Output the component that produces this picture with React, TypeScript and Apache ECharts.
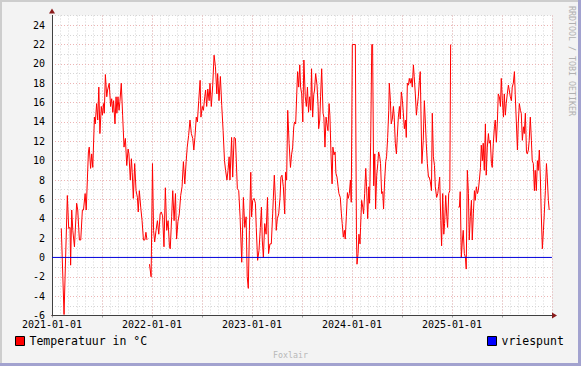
import { useEffect, useRef } from 'react';
import * as echarts from 'echarts';

// Days since 2021-01-01 and temperature (°C); null marks a gap in the data
const dayOffsets = [
  34, 44, 56, 61, 66, 68, 72, 76, 82, 90, 94, 100, 105, 111, 115, 121, 125, 133, 136, 141,
  145, 149, 155, 158, 163, 167, 171, 175, 180, 184, 188, 191, 195, 200, 203, 209, 214, 218, 222, 225,
  230, 234, 237, 241, 245, 248, 253, 258, 263, 268, 273, 278, 281, 286, 290, 293, 297, 302, 307, 312,
  315, 319, 324, 329, 334, 339, 343, 347, 351,
  356, 362, 367, 371, 375, 380, 385, 390, 395, 399, 404, 409, 414, 419, 424, 429, 432, 437, 441, 446,
  451, 455, 460, 465, 470, 475, 480, 485, 490, 494, 499, 504, 509, 514, 518, 522, 527, 531, 536, 541,
  544, 549, 553, 558, 561, 565, 569, 574, 577, 582, 587, 592, 597, 602, 605, 610, 615, 620, 625, 630,
  634, 639, 643, 647, 650, 656, 660, 665, 670, 677, 682, 687, 693, 699, 704, 709, 713, 717, 721, 726,
  729, 733, 738, 743, 746, 751, 756, 761, 765, 768, 772, 777, 782, 787, 791, 796, 801, 806, 812, 816,
  819, 823, 828, 833, 836, 840, 845, 850, 853, 857, 861, 866, 871, 875, 879, 883, 886, 890, 894, 897,
  901, 905, 908, 912, 916, 920, 925, 929, 933, 937, 941, 945, 948, 952, 956, 959, 963, 968, 972, 974,
  978, 981, 985, 990, 993, 997, 1001, 1004, 1008, 1012, 1015, 1019, 1023, 1026, 1030, 1034, 1037, 1041, 1045, 1048,
  1053, 1057, 1060, 1064, 1068, 1071, 1075, 1079, 1082, 1086, 1090, 1093, 1097, 1108, 1112, 1114, 1118, 1121, 1125, 1127,
  1131, 1135, 1138, 1142, 1146, 1149, 1153, 1157, 1160, 1164, 1168, 1171, 1175, 1179, 1182, 1186, 1190, 1193, 1197, 1200,
  1204, 1208, 1211, 1215, 1219, 1222, 1226, 1230, 1232, 1236, 1239, 1243, 1247, 1250, 1254, 1258, 1261, 1265, 1269, 1272,
  1276, 1280, 1283, 1287, 1291, 1294, 1298, 1302, 1305, 1309, 1312, 1316, 1320, 1323, 1327, 1331, 1334, 1338, 1342, 1345,
  1351, 1356, 1360, 1364, 1367, 1371, 1375, 1378, 1382, 1386, 1389, 1393, 1397, 1400, 1405, 1409, 1412, 1416, 1420, 1423,
  1427, 1431, 1434, 1438, 1442, 1445, 1449, 1453, 1456, 1470,
  1484, 1488, 1491, 1495, 1499, 1502, 1506, 1510, 1513, 1517, 1521, 1524, 1528, 1532, 1535, 1539, 1543, 1546, 1550, 1554,
  1557, 1561, 1565, 1568, 1572, 1575, 1579, 1583, 1586, 1590, 1594, 1597, 1601, 1605, 1608, 1612, 1616, 1619, 1623, 1627,
  1630, 1634, 1638, 1641, 1645, 1649, 1652, 1656, 1659, 1663, 1667, 1670, 1674, 1678, 1681, 1685, 1689, 1692, 1696, 1700,
  1703, 1707, 1711, 1714, 1718, 1722, 1725, 1729, 1733, 1736, 1740, 1743, 1747, 1751, 1754, 1758, 1762, 1765, 1769, 1773,
  1776, 1780, 1784, 1787, 1791, 1795, 1798, 1802, 1806, 1809, 1813, 1816,
];

const temperatures: (number | null)[] = [
  3.0, -5.9, 6.4, 3.0, 3.1, -0.8, 4.9, 2.8, 1.1, 5.6, 4.9, 1.8, 1.8, 4.9, 4.9, 6.6, 4.9, 10.9, 11.4, 9.2,
  10.7, 9.3, 14.5, 13.8, 15.9, 14.2, 17.6, 12.8, 15.6, 14.7, 15.9, 14.9, 18.9, 16.6, 17.3, 18.0, 15.6, 16.4, 15.0, 16.2,
  13.8, 16.6, 14.9, 16.6, 15.2, 16.1, 18.0, 14.7, 11.4, 12.3, 9.5, 11.2, 10.7, 8.0, 10.2, 8.8, 6.1, 9.7, 6.9, 6.2,
  4.7, 6.9, 5.2, 3.8, 1.8, 1.8, 2.6, 1.8, null,
  -0.7, -2.0, 9.7, 2.8, 1.6, 2.8, 3.8, 2.4, 4.5, 4.7, 4.3, 1.1, 7.2, 2.8, 3.8, 1.1, 0.9, 4.2, 6.9, 3.8,
  6.6, 1.9, 3.7, 4.5, 6.4, 7.3, 9.9, 7.6, 9.9, 11.4, 12.6, 14.2, 12.8, 12.3, 11.1, 12.4, 14.5, 14.0, 16.2, 18.3,
  14.5, 15.6, 15.2, 16.6, 17.3, 15.6, 17.4, 16.2, 18.0, 15.6, 17.8, 20.9, 19.7, 16.9, 19.0, 16.2, 18.7, 15.7, 13.1, 10.0,
  9.0, 8.0, 9.0, 10.4, 8.0, 12.4, 8.3, 12.4, 12.3, 7.1, 6.9, 4.2, -0.5, 6.2, 3.1, 4.2, -2.0, -3.2, 2.8, 8.8,
  4.2, 5.9, 6.1, 5.6, 3.1, -0.3, 0.7, 3.1, 5.2, 1.8, 0.0, 3.5, 2.4, 6.2, 0.4, 1.4, 1.4, 4.5, 8.5, 5.9,
  2.8, 4.0, 4.5, 6.2, 8.3, 8.5, 7.3, 4.5, 8.8, 8.0, 15.2, 11.8, 9.3, 10.6, 11.4, 13.5, 14.0, 13.8, 16.9, 19.2,
  17.6, 19.9, 17.6, 16.9, 14.0, 20.4, 16.6, 15.6, 17.6, 15.0, 16.6, 15.2, 19.5, 14.5, 16.8, 17.3, 19.0, 17.8, 15.6, 13.3,
  14.2, 16.6, 19.5, 14.9, 14.5, 11.4, 14.5, 13.8, 13.1, 15.9, 14.7, 10.7, 7.6, 11.4, 10.6, 10.9, 8.7, 8.3, 7.3, 6.6,
  6.2, 4.5, 3.5, 2.1, 2.8, 1.9, 4.2, 6.7, 6.1, 6.6, 8.0, 5.7, 22.0, 22.0, 2.4, -0.7, 0.4, 2.4, 1.4, 3.1,
  5.9, 5.2, 4.5, 6.6, 9.2, 7.3, 4.0, 7.3, 5.6, 11.9, 22.0, 22.0, 7.4, 10.7, 5.0, 8.5, 9.7, 10.9, 10.4, 9.7,
  6.6, 6.8, 5.0, 8.0, 9.9, 10.4, 12.4, 15.2, 18.0, 16.2, 13.8, 14.3, 15.6, 14.5, 11.8, 10.7, 12.4, 14.5, 15.6, 14.3,
  17.1, 16.2, 15.0, 13.3, 14.2, 12.4, 18.0, 17.8, 18.5, 18.0, 18.5, 17.6, 19.9, 18.7, 16.9, 14.7, 15.6, 16.6, 18.3, 19.2,
  9.7, 12.1, 16.2, 13.8, 11.8, 9.7, 8.3, 8.3, 7.8, 6.9, 14.9, 10.4, 9.5, 7.3, 6.2, 6.6, 7.3, 8.3, 3.8, 1.2,
  6.6, 2.4, 3.5, 6.4, 4.2, 3.1, 6.6, 6.9, 22.0, null,
  5.2, 5.2, 6.8, 0.0, 1.8, 2.8, 0.4, 0.0, -1.2, 9.0, 6.6, 1.8, 4.2, 5.9, 1.8, 4.5, 6.9, 5.9, 7.3, 6.6,
  6.9, 8.0, 9.3, 11.6, 10.0, 11.8, 9.0, 13.8, 8.5, 11.4, 12.8, 11.8, 12.1, 9.7, 9.3, 11.8, 13.5, 14.2, 11.9, 14.2,
  16.9, 16.6, 15.6, 18.5, 16.2, 14.5, 16.9, 14.7, 15.9, 16.9, 17.8, 17.3, 16.6, 16.2, 17.6, 18.0, 19.2, 16.8, 14.0, 11.1,
  13.8, 15.9, 15.2, 14.9, 12.1, 13.5, 12.8, 14.9, 10.9, 10.7, 11.1, 12.1, 14.5, 12.1, 10.0, 9.7, 6.9, 9.0, 6.9, 10.0,
  9.0, 11.1, 8.0, 4.5, 0.9, 2.8, 4.5, 6.9, 9.7, 8.3, 5.9, 4.9,
];

// Freezing point reference line (°C) over the whole period
const freezeDays = [0, 1826];
const freezeValues = [0, 0];

const yearLabels = ['2021-01-01', '2022-01-01', '2023-01-01', '2024-01-01', '2025-01-01'];

const DAYS_PER_MONTH = 365.25 / 12;
const MONO = '"DejaVu Sans Mono", monospace';

export default function App() {
  const ref = useRef<HTMLDivElement>(null);

  useEffect(() => {
    const chart = echarts.init(ref.current!, null, { renderer: 'svg', width: 581, height: 366 });
    const tempData = dayOffsets.map((d, i) => [d / DAYS_PER_MONTH, temperatures[i]]);
    const freezeData = freezeDays.map((d, i) => [d / DAYS_PER_MONTH, freezeValues[i]]);

    const minorColor = '#d6d6d6';
    const majorColor = '#ecb4b4';
    const axisColor = '#404040';
    const arrowColor = '#8b1a1a';
    const dash = [1, 2];

    chart.setOption({
      animation: false,
      backgroundColor: '#f3f3f3',
      grid: {
        left: 52,
        right: 29,
        top: 15.5,
        bottom: 50.5,
        show: true,
        backgroundColor: '#ffffff',
        borderWidth: 0,
      },
      xAxis: [
        {
          type: 'value', min: 0, max: 60, interval: 1, position: 'bottom', z: 0,
          axisLine: { show: false, onZero: false },
          axisTick: { show: false },
          axisLabel: { show: false },
          splitLine: { show: true, lineStyle: { color: minorColor, type: dash, width: 1 } },
        },
        {
          type: 'value', min: 0, max: 60, interval: 6, position: 'bottom', z: 1,
          axisLine: {
            show: true, onZero: false, symbol: ['none', 'triangle'], symbolSize: [6, 5], symbolOffset: [0, 2.5],
            lineStyle: { color: arrowColor, width: 1 },
          },
          axisTick: { show: true, length: 2, lineStyle: { color: '#999999' } },
          axisLabel: {
            show: true, margin: 4, fontFamily: MONO, fontSize: 10, color: '#000000',
            formatter: (v: number) => (v % 12 === 0 && v / 12 < yearLabels.length ? yearLabels[v / 12] : ''),
          },
          splitLine: { show: true, lineStyle: { color: majorColor, type: dash, width: 1 } },
        },
        {
          type: 'value', min: 0, max: 60, position: 'bottom', z: 2,
          axisLine: { show: true, onZero: false, lineStyle: { color: axisColor, width: 1 } },
          axisTick: { show: false },
          axisLabel: { show: false },
          splitLine: { show: false },
        },
      ],
      yAxis: [
        {
          type: 'value', min: -6, max: 25, interval: 1, position: 'left', z: 0,
          axisLine: { show: false, onZero: false },
          axisTick: { show: false },
          axisLabel: { show: false },
          splitLine: { show: true, lineStyle: { color: minorColor, type: dash, width: 1 } },
        },
        {
          type: 'value', min: -6, max: 25, interval: 2, position: 'left', z: 1,
          axisLine: {
            show: true, onZero: false, symbol: ['none', 'triangle'], symbolSize: [6, 5], symbolOffset: [0, 4.5],
            lineStyle: { color: arrowColor, width: 1 },
          },
          axisTick: { show: false },
          axisLabel: {
            show: true, margin: 7, fontFamily: MONO, fontSize: 10, color: '#000000',
            formatter: (v: number) => (Math.abs(v % 2) === 0 ? String(v) : ''),
          },
          splitLine: { show: true, showMaxLine: false, lineStyle: { color: majorColor, type: dash, width: 1 } },
        },
        {
          type: 'value', min: -6, max: 25, position: 'left', z: 2,
          axisLine: { show: true, onZero: false, lineStyle: { color: axisColor, width: 1 } },
          axisTick: { show: false },
          axisLabel: { show: false },
          splitLine: { show: false },
        },
      ],
      legend: [
        {
          data: ['Temperatuur in °C'], left: 15, top: 334, padding: 0,
          itemWidth: 9, itemHeight: 9, icon: 'rect', selectedMode: false,
          itemStyle: { borderColor: '#000000', borderWidth: 1 },
          textStyle: { fontFamily: MONO, fontSize: 11.5, color: '#000000', lineHeight: 14 },
        },
        {
          data: ['vriespunt'], left: 487, top: 334, padding: 0,
          itemWidth: 9, itemHeight: 9, icon: 'rect', selectedMode: false,
          itemStyle: { borderColor: '#000000', borderWidth: 1 },
          textStyle: { fontFamily: MONO, fontSize: 11.5, color: '#000000', lineHeight: 14 },
        },
      ],
      series: [
        {
          name: 'Temperatuur in °C', type: 'line', xAxisIndex: 1, yAxisIndex: 1,
          data: tempData, symbol: 'none', showSymbol: false, connectNulls: false, z: 3,
          lineStyle: { color: '#ff0000', width: 1 }, itemStyle: { color: '#ff0000' },
        },
        {
          name: 'vriespunt', type: 'line', xAxisIndex: 1, yAxisIndex: 1,
          data: freezeData, symbol: 'none', showSymbol: false, z: 4,
          lineStyle: { color: '#0000dd', width: 1 }, itemStyle: { color: '#0000ff' },
        },
      ],
      graphic: [
        { type: 'rect', silent: true, shape: { x: 0, y: 0, width: 581, height: 2 }, style: { fill: '#cdcdcd' } },
        { type: 'rect', silent: true, shape: { x: 0, y: 0, width: 2, height: 366 }, style: { fill: '#cdcdcd' } },
        { type: 'rect', silent: true, shape: { x: 578, y: 0, width: 3, height: 366 }, style: { fill: '#a2a2cf' } },
        { type: 'rect', silent: true, shape: { x: 0, y: 363, width: 581, height: 3 }, style: { fill: '#a2a2cf' } },
        {
          type: 'text', silent: true, x: 572, y: 6, rotation: -Math.PI / 2,
          style: {
            text: 'RRDTOOL / TOBI OETIKER', font: '8.3px "DejaVu Sans Mono"', fill: '#b0b0b0',
            textAlign: 'left', textVerticalAlign: 'middle',
          },
        },
        {
          type: 'text', silent: true, x: 290.5, y: 355,
          style: {
            text: 'Foxlair', font: '8.3px "DejaVu Sans Mono"', fill: '#b8b8b8',
            textAlign: 'center', textVerticalAlign: 'middle',
          },
        },
      ],
    });

    return () => chart.dispose();
  }, []);

  return <div ref={ref} style={{ position: 'absolute', left: 0, top: 0, width: 581, height: 366 }} />;
}
